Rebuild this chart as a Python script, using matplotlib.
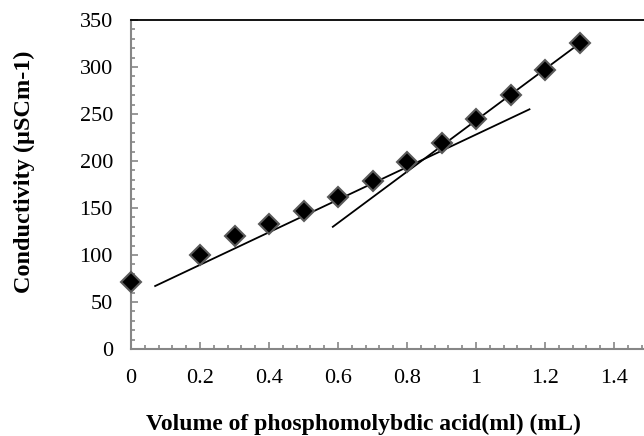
import numpy as np
import matplotlib.pyplot as plt
from matplotlib.ticker import MultipleLocator

# Conductometric titration readings
volume = [0.0, 0.2, 0.3, 0.4, 0.5, 0.6, 0.7, 0.8, 0.9, 1.0, 1.1, 1.2, 1.3]
conductivity = [71, 100, 120, 133, 147, 162, 179, 199, 219, 245, 270, 297, 325]

# Fitted branches (end points of each linear trend)
fit1_x = [0.07, 1.155]
fit1_y = [67, 255]
fit2_x = [0.585, 1.30]
fit2_y = [130, 325]

plt.rcParams['font.family'] = ['Liberation Serif', 'DejaVu Serif']

fig = plt.figure(figsize=(6.44, 4.36), dpi=100)
ax = fig.add_axes([131 / 644, 87 / 436, (644 - 131) / 644, 329 / 436])

ax.plot(fit1_x, fit1_y, color='black', lw=1.3, zorder=2)
ax.plot(fit2_x, fit2_y, color='black', lw=1.3, zorder=2)
ax.plot(volume, conductivity, linestyle='none', marker='D', markersize=10.5,
        markerfacecolor='black', markeredgecolor='#5a5a5a', markeredgewidth=1.5,
        zorder=3, clip_on=False)

ax.set_xlim(0, (644 - 131) / 345)
ax.set_ylim(0, 350)
ax.xaxis.set_major_locator(MultipleLocator(0.2))
ax.xaxis.set_minor_locator(MultipleLocator(0.04))
ax.yaxis.set_major_locator(MultipleLocator(50))
ax.yaxis.set_minor_locator(MultipleLocator(10))
ax.xaxis.set_major_formatter(plt.FuncFormatter(lambda v, _: f"{v:g}"))

for side in ('left', 'bottom'):
    ax.spines[side].set_color('#868686')
    ax.spines[side].set_linewidth(1.5)
ax.spines['right'].set_visible(False)
ax.spines['top'].set_color('black')
ax.spines['top'].set_linewidth(1.3)

ax.tick_params(which='both', direction='in', color='#868686', width=1.2,
               top=False, right=False, labelsize=16, labelcolor='black')
ax.tick_params(which='major', length=5)
ax.tick_params(axis='x', which='major', pad=14.5)
ax.tick_params(axis='y', which='major', pad=13)
ax.tick_params(which='minor', length=3)

fig.text(363 / 644, 1 - 424 / 436, 'Volume of phosphomolybdic acid(ml) (mL)',
         ha='center', va='center', fontsize=17, fontweight='bold')
fig.text(24 / 644, 1 - 172 / 436, 'Conductivity (µSCm-1)', rotation=90,
         ha='center', va='center', fontsize=17.5, fontweight='bold')

fig.savefig('out.png', dpi=100)
